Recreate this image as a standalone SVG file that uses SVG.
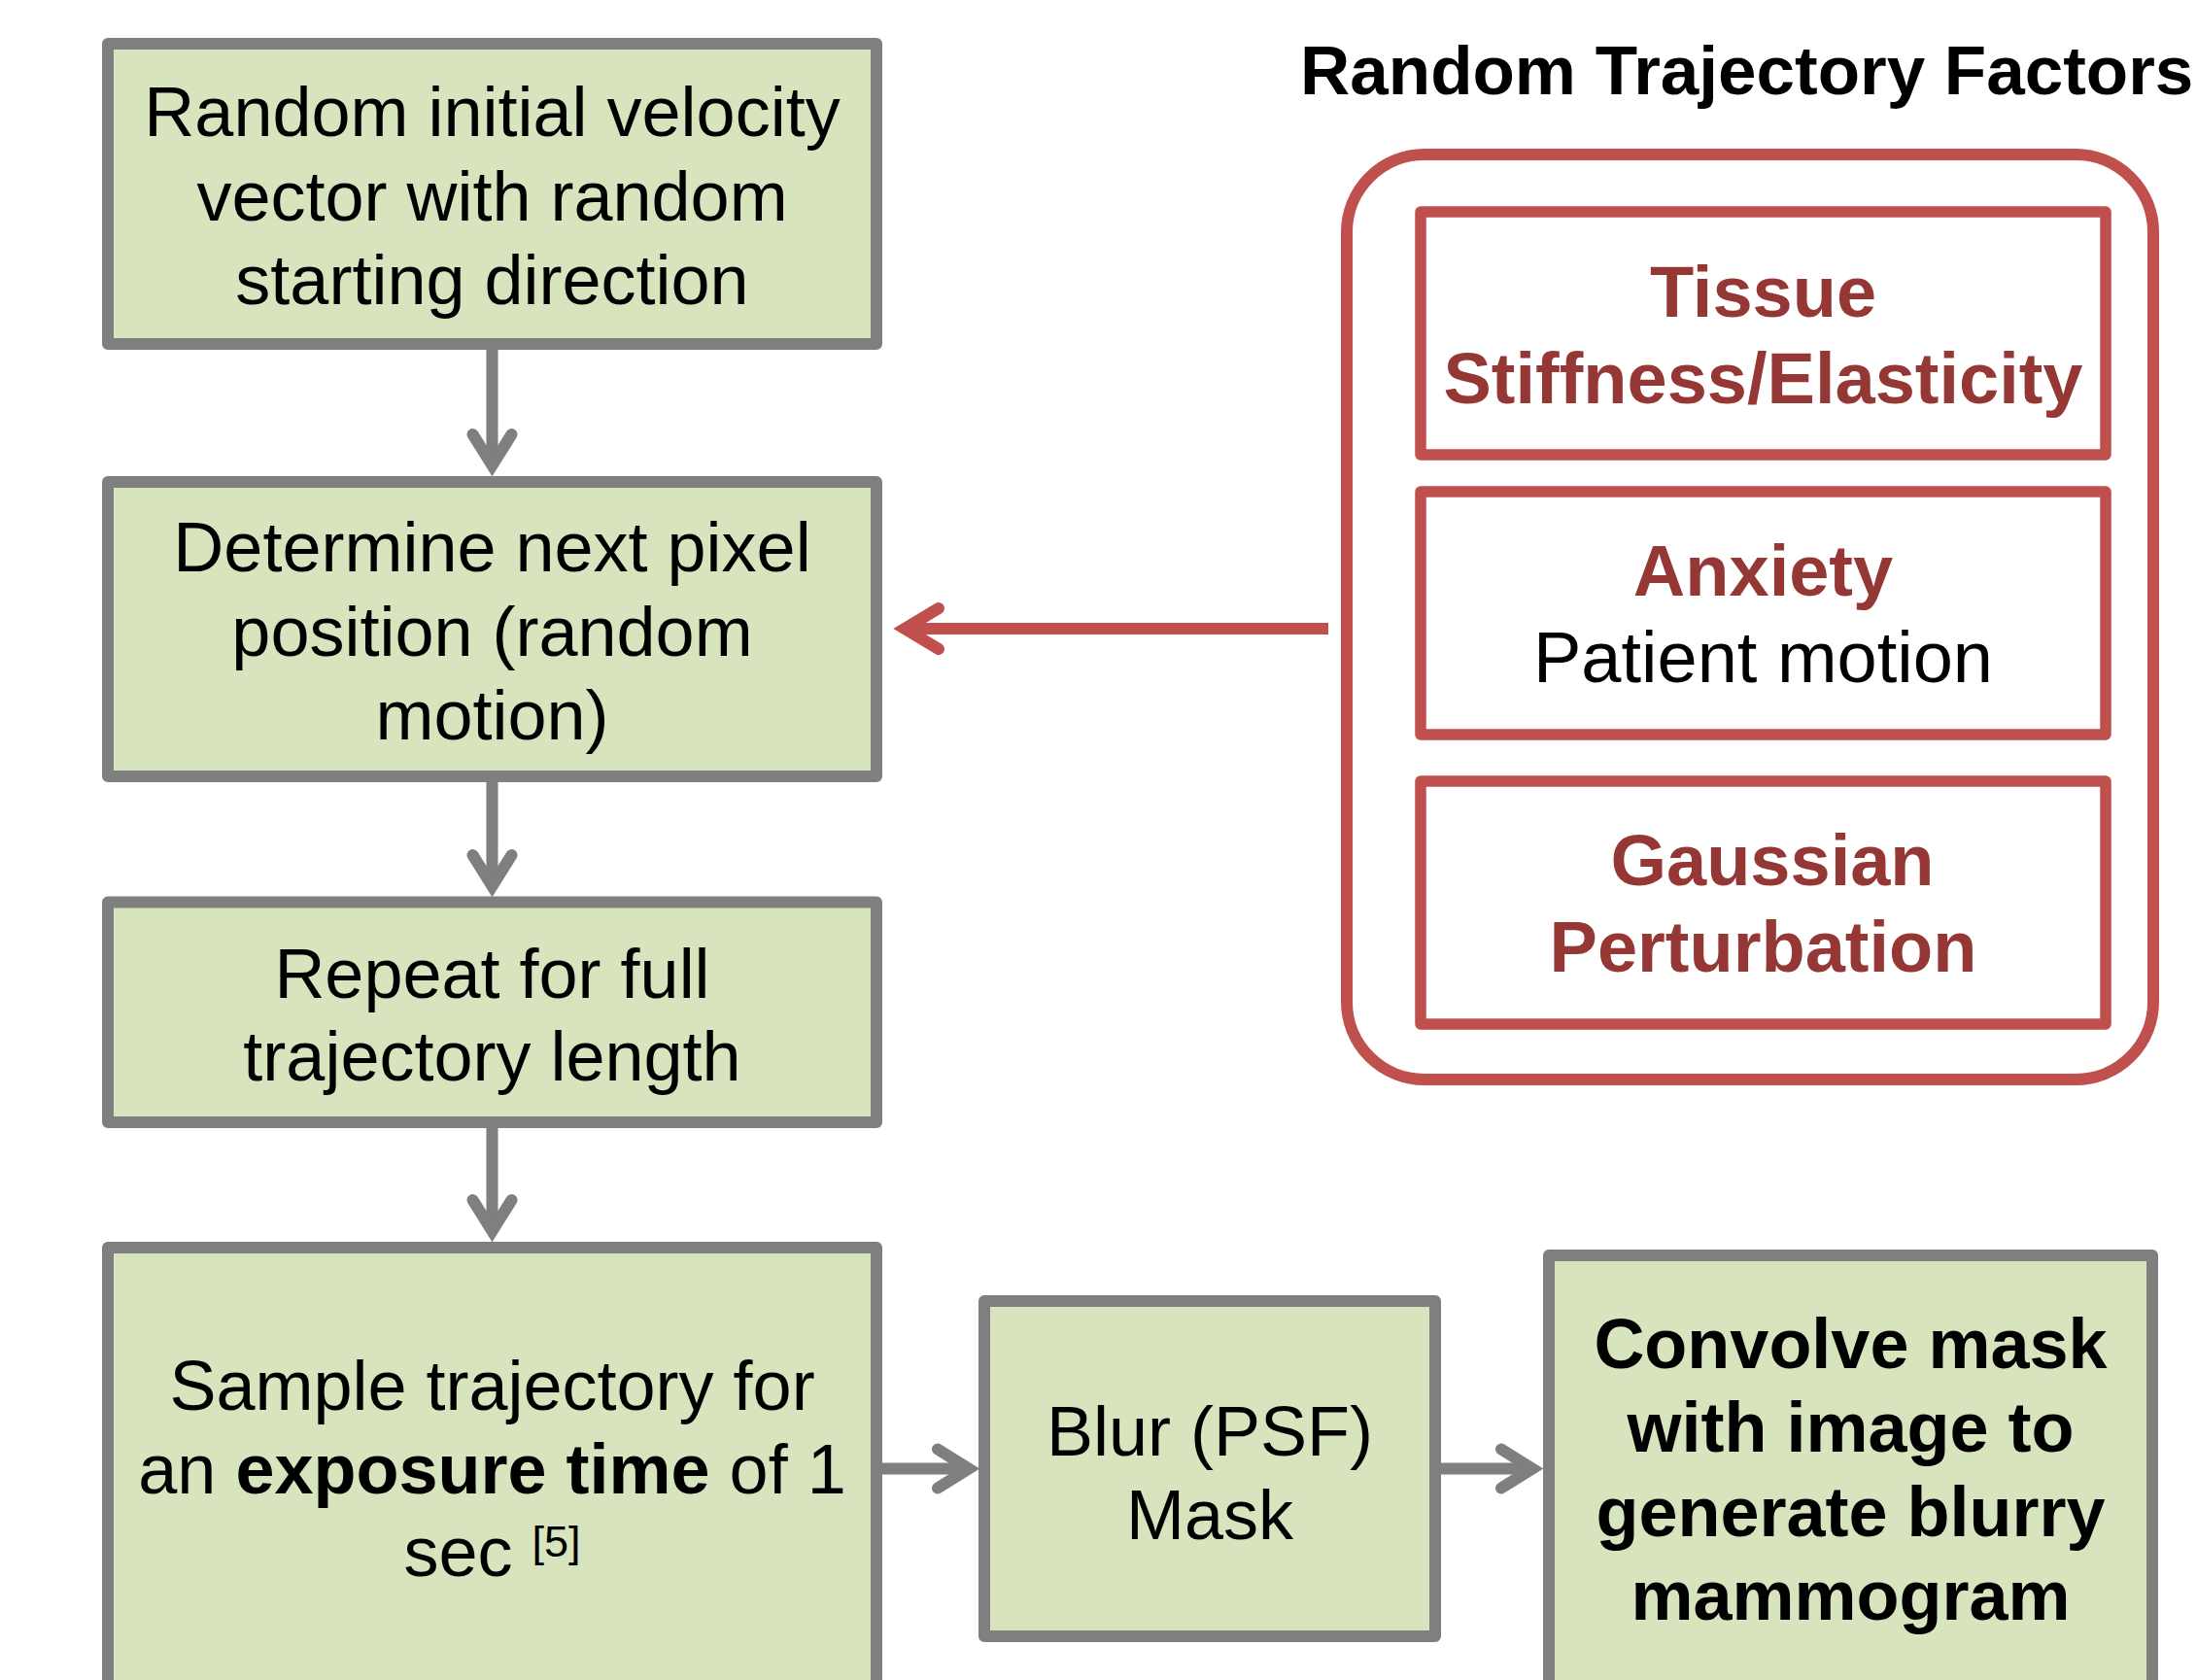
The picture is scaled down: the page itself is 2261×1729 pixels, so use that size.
<svg xmlns="http://www.w3.org/2000/svg" width="2261" height="1729" viewBox="0 0 2261 1729">
<style>
text{font-family:"Liberation Sans",Arial,sans-serif;}
.step{fill:#D7E4BD;stroke:#7F7F7F;stroke-width:12;stroke-linejoin:round;}
.fac{fill:#FFFFFF;stroke:#C0504D;stroke-width:11.5;stroke-linejoin:round;}
.t{font-size:72px;fill:#000;text-anchor:middle;}
.tb{font-size:72px;fill:#000;text-anchor:middle;font-weight:bold;}
.r{font-size:74px;fill:#953735;text-anchor:middle;font-weight:bold;}
.rn{font-size:74px;fill:#000;text-anchor:middle;}
.g{stroke:#7F7F7F;stroke-width:12;fill:none;}
.rl{stroke:#C0504D;stroke-width:12;fill:none;}
</style>
<defs>
<marker id="ag" markerUnits="userSpaceOnUse" markerWidth="80" markerHeight="80" refX="0" refY="0" orient="auto" overflow="visible">
<path d="M-32,-20 L0,0 L-32,20" fill="none" stroke="#7F7F7F" stroke-width="12" stroke-linecap="round" stroke-linejoin="miter"/>
</marker>
<marker id="ar" markerUnits="userSpaceOnUse" markerWidth="80" markerHeight="80" refX="0" refY="0" orient="auto" overflow="visible">
<path d="M-35,-21 L0,0 L-35,21" fill="none" stroke="#C0504D" stroke-width="12" stroke-linecap="round" stroke-linejoin="miter"/>
</marker>
</defs>
<rect width="2261" height="1729" fill="#FFFFFF"/>

<g id="node-init">
<rect class="step" x="111" y="45" width="791" height="309"/>
<text class="t" x="506.5" y="140">Random initial velocity</text>
<text class="t" x="506.5" y="227">vector with random</text>
<text class="t" x="506.5" y="313">starting direction</text>
</g>

<g id="node-next">
<rect class="step" x="111" y="496" width="791" height="303"/>
<text class="t" x="506.5" y="588">Determine next pixel</text>
<text class="t" x="506.5" y="675">position (random</text>
<text class="t" x="506.5" y="761">motion)</text>
</g>

<g id="node-repeat">
<rect class="step" x="111" y="928.5" width="791" height="226.5"/>
<text class="t" x="506.5" y="1027">Repeat for full</text>
<text class="t" x="506.5" y="1112">trajectory length</text>
</g>

<g id="node-sample">
<rect class="step" x="111" y="1284" width="791" height="480"/>
<text class="t" x="506.5" y="1451">Sample trajectory for</text>
<text class="t" x="506.5" y="1537">an <tspan font-weight="bold">exposure time</tspan> of 1</text>
<text class="t" x="506.5" y="1622">sec <tspan font-size="45" dy="-20">[5]</tspan></text>
</g>

<g id="node-blur">
<rect class="step" x="1013" y="1339" width="464" height="345"/>
<text class="t" x="1245" y="1498">Blur (PSF)</text>
<text class="t" x="1245" y="1584">Mask</text>
</g>

<g id="node-convolve">
<rect class="step" x="1594" y="1292" width="621" height="480"/>
<text class="tb" x="1904.5" y="1408">Convolve mask</text>
<text class="tb" x="1904.5" y="1494">with image to</text>
<text class="tb" x="1904.5" y="1581">generate blurry</text>
<text class="tb" x="1904.5" y="1667">mammogram</text>
</g>

<g id="node-factors">
<text x="1338" y="97" font-size="71" font-weight="bold" fill="#000">Random Trajectory Factors</text>
<rect x="1386" y="159" width="830" height="952" rx="80" ry="80" fill="#FFFFFF" stroke="#C0504D" stroke-width="12"/>
</g>

<g id="node-tissue">
<rect class="fac" x="1462" y="218" width="705" height="250"/>
<text class="r" x="1814.5" y="326">Tissue</text>
<text class="r" x="1814.5" y="415">Stiffness/Elasticity</text>
</g>

<g id="node-anxiety">
<rect class="fac" x="1462" y="506" width="705" height="250"/>
<text class="r" x="1814.5" y="613">Anxiety</text>
<text class="rn" x="1814.5" y="702">Patient motion</text>
</g>

<g id="node-gaussian">
<rect class="fac" x="1462" y="804" width="705" height="250"/>
<text class="r" x="1824" y="911">Gaussian</text>
<text class="r" x="1814.5" y="1000">Perturbation</text>
</g>

<g id="connectors">
<path class="g" d="M506.5,360 L506.5,479" marker-end="url(#ag)"/>
<path class="g" d="M506.5,805 L506.5,912" marker-end="url(#ag)"/>
<path class="g" d="M506.5,1161 L506.5,1267" marker-end="url(#ag)"/>
<path class="g" d="M908,1511.5 L997,1511.5" marker-end="url(#ag)"/>
<path class="g" d="M1482,1511.5 L1577,1511.5" marker-end="url(#ag)"/>
<path class="rl" d="M1367,647 L931,647" marker-end="url(#ar)"/>
</g>
</svg>
